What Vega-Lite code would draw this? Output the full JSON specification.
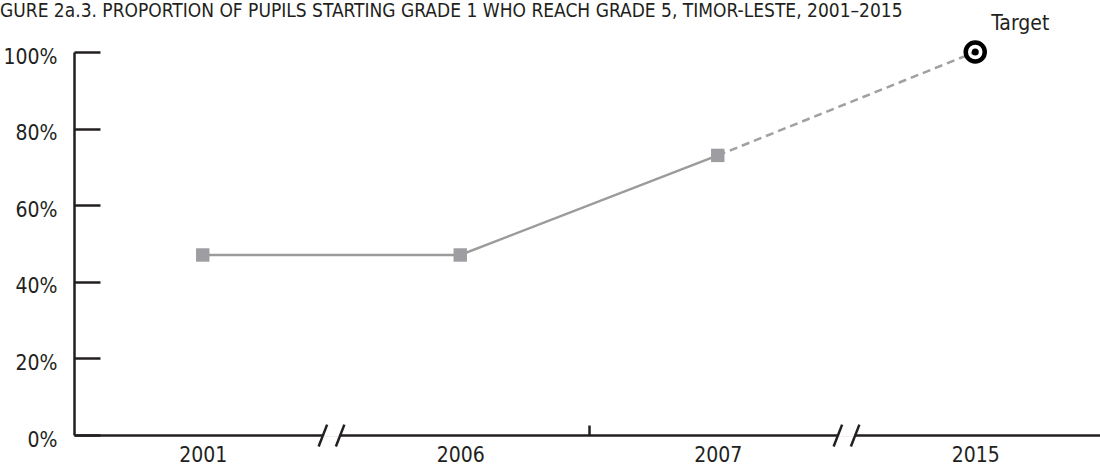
{
  "$schema": "https://vega.github.io/schema/vega-lite/v6.json",
  "width": 1030,
  "height": 383,
  "autosize": {"type": "none"},
  "padding": {"left": 74, "top": 52, "right": 0, "bottom": 36},
  "background": "white",
  "config": {
    "view": {"stroke": null},
    "font": "DejaVu Sans Condensed"
  },
  "title": {
    "text": "GURE 2a.3. PROPORTION OF PUPILS STARTING GRADE 1 WHO REACH GRADE 5, TIMOR-LESTE, 2001–2015",
    "anchor": "start",
    "frame": "group",
    "dx": -74,
    "offset": -23,
    "baseline": "alphabetic",
    "fontSize": 19,
    "fontWeight": "normal",
    "font": "DejaVu Sans Condensed",
    "color": "#231f20"
  },
  "datasets": {
    "observed": [
      {"year": "2001", "pos": 0.5, "value": 47},
      {"year": "2006", "pos": 1.5, "value": 47},
      {"year": "2007", "pos": 2.5, "value": 73}
    ],
    "projection": [
      {"year": "2007", "pos": 2.5, "value": 73},
      {"year": "2015", "pos": 3.5, "value": 100}
    ],
    "target": [
      {"year": "2015", "pos": 3.5, "value": 100, "label": "Target"}
    ],
    "gaps": [
      {"x": 0.967, "x2": 1.034, "y": -0.5, "y2": 0.5},
      {"x": 2.967, "x2": 3.034, "y": -0.5, "y2": 0.5}
    ],
    "breaks": [
      {"x": 0.95, "x2": 0.983, "y": -3, "y2": 2.7},
      {"x": 1.017, "x2": 1.05, "y": -3, "y2": 2.7},
      {"x": 2.95, "x2": 2.983, "y": -3, "y2": 2.7},
      {"x": 3.017, "x2": 3.05, "y": -3, "y2": 2.7}
    ]
  },
  "layer": [
    {
      "data": {"name": "observed"},
      "mark": {"type": "line", "color": "#9b9b9b", "strokeWidth": 2.5},
      "encoding": {
        "x": {
          "field": "pos",
          "type": "quantitative",
          "scale": {"domain": [0, 4], "nice": false, "zero": false},
          "axis": {
            "title": null,
            "values": [0.5, 1.5, 2, 2.5, 3.5],
            "labelExpr": "datum.value == 0.5 ? '2001' : datum.value == 1.5 ? '2006' : datum.value == 2.5 ? '2007' : datum.value == 3.5 ? '2015' : ''",
            "grid": false,
            "domainColor": "#231f20",
            "domainWidth": 2.5,
            "tickColor": "#231f20",
            "tickWidth": 2.5,
            "tickSize": -10,
            "tickOpacity": {"condition": {"test": "datum.value == 2", "value": 1}, "value": 0},
            "labelFontSize": 21,
            "labelColor": "#231f20",
            "labelPadding": 19,
            "labelFlush": false,
            "labelOverlap": false
          }
        },
        "y": {
          "field": "value",
          "type": "quantitative",
          "scale": {"domain": [0, 100], "nice": false},
          "axis": {
            "title": null,
            "values": [0, 20, 40, 60, 80, 100],
            "labelExpr": "datum.value + '%'",
            "grid": false,
            "domainColor": "#231f20",
            "domainWidth": 2.5,
            "tickColor": "#231f20",
            "tickWidth": 2.5,
            "tickSize": -26,
            "labelFontSize": 21,
            "labelColor": "#231f20",
            "labelPadding": 43,
            "labelOffset": 5,
            "labelFlush": false,
            "labelOverlap": false
          }
        }
      }
    },
    {
      "data": {"name": "projection"},
      "mark": {"type": "line", "color": "#a0a0a0", "strokeWidth": 2.5, "strokeDash": [8, 5]},
      "encoding": {
        "x": {"field": "pos", "type": "quantitative"},
        "y": {"field": "value", "type": "quantitative"}
      }
    },
    {
      "data": {"name": "observed"},
      "mark": {"type": "point", "shape": "square", "filled": true, "color": "#9d9da2", "opacity": 1, "size": 180},
      "encoding": {
        "x": {"field": "pos", "type": "quantitative"},
        "y": {"field": "value", "type": "quantitative"}
      }
    },
    {
      "data": {"name": "target"},
      "mark": {"type": "point", "shape": "circle", "filled": false, "color": "#000000", "strokeWidth": 4.5, "opacity": 1, "size": 361},
      "encoding": {
        "x": {"field": "pos", "type": "quantitative"},
        "y": {"field": "value", "type": "quantitative"}
      }
    },
    {
      "data": {"name": "target"},
      "mark": {"type": "point", "shape": "circle", "filled": true, "color": "#000000", "opacity": 1, "size": 49},
      "encoding": {
        "x": {"field": "pos", "type": "quantitative"},
        "y": {"field": "value", "type": "quantitative"}
      }
    },
    {
      "data": {"name": "target"},
      "mark": {"type": "text", "align": "left", "baseline": "alphabetic", "dx": 16, "dy": -22, "fontSize": 21, "color": "#231f20"},
      "encoding": {
        "x": {"field": "pos", "type": "quantitative"},
        "y": {"field": "value", "type": "quantitative"},
        "text": {"field": "label"}
      }
    },
    {
      "data": {"name": "gaps"},
      "mark": {"type": "rect", "color": "white", "opacity": 1},
      "encoding": {
        "x": {"field": "x", "type": "quantitative"},
        "x2": {"field": "x2"},
        "y": {"field": "y", "type": "quantitative"},
        "y2": {"field": "y2"}
      }
    },
    {
      "data": {"name": "breaks"},
      "mark": {"type": "rule", "color": "#231f20", "strokeWidth": 2.5},
      "encoding": {
        "x": {"field": "x", "type": "quantitative"},
        "x2": {"field": "x2"},
        "y": {"field": "y", "type": "quantitative"},
        "y2": {"field": "y2"}
      }
    }
  ]
}
